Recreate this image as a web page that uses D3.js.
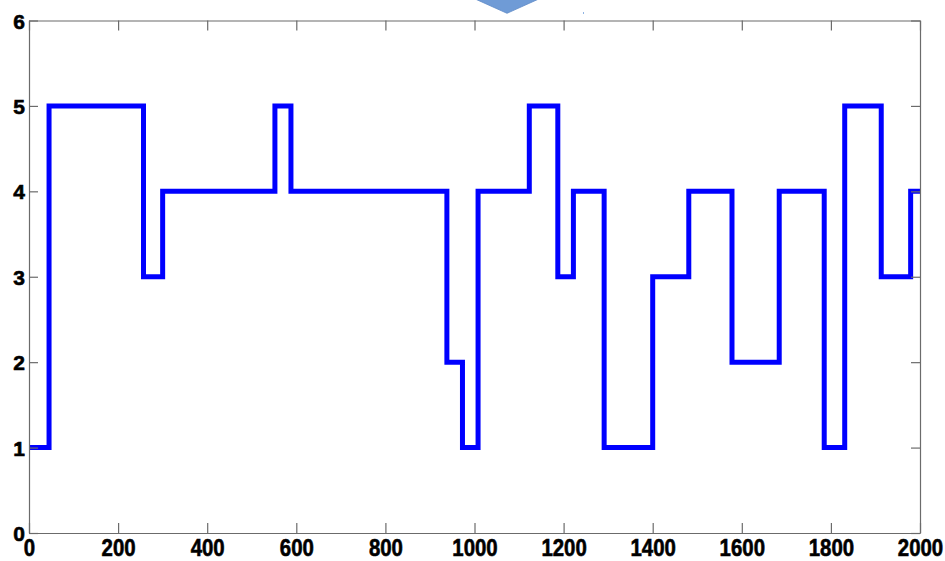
<!DOCTYPE html>
<html>
<head>
<meta charset="utf-8">
<script src="https://cdn.jsdelivr.net/npm/d3@7"></script>
<style>
  html, body { margin: 0; padding: 0; background: #fff; }
  svg { display: block; }
</style>
</head>
<body>
<svg id="chart" width="945" height="561"></svg>
<script>
// Step signal: positions where the state changes, and the state held from there on
const changeX = [0, 45, 257, 300, 552, 588, 938, 973, 1008, 1123, 1187, 1222, 1291, 1400, 1481, 1578, 1684, 1785, 1831, 1913, 1979];
const levels  = [1, 5, 3, 4, 5, 4, 2, 1, 4, 5, 3, 4, 1, 3, 4, 2, 4, 1, 5, 3, 4];
const xEnd = 2000;

const xTicks = [0, 200, 400, 600, 800, 1000, 1200, 1400, 1600, 1800, 2000];
const yTicks = [0, 1, 2, 3, 4, 5, 6];

const svg = d3.select("#chart");
const plotLeft = 29, plotTop = 20.5, plotRight = 920, plotBottom = 533;

const x = d3.scaleLinear().domain([0, 2000]).range([plotLeft, plotRight]);
const y = d3.scaleLinear().domain([0, 6]).range([plotBottom, plotTop]);

// decorative arrow shape at the top edge
svg.append("polygon")
  .attr("points", "473,-2 541,-2 507,13.3")
  .attr("fill", "#6f9bd6")
  .attr("stroke", "#5d89c6")
  .attr("stroke-width", 0.8);
svg.append("rect")
  .attr("x", 583).attr("y", 12).attr("width", 1).attr("height", 2)
  .attr("fill", "#8fb4e3");

svg.append("defs").append("clipPath").attr("id", "plotClip")
  .append("rect")
  .attr("x", plotLeft).attr("y", plotTop - 5)
  .attr("width", plotRight - plotLeft).attr("height", plotBottom - plotTop + 10);

const pts = changeX.map((cx, i) => [cx, levels[i]]);
pts.push([xEnd, levels[levels.length - 1]]);

const line = d3.line()
  .x(d => x(d[0]))
  .y(d => y(d[1]))
  .curve(d3.curveStepAfter);

svg.append("path")
  .datum(pts)
  .attr("clip-path", "url(#plotClip)")
  .attr("d", line)
  .attr("fill", "none")
  .attr("stroke", "#0000ff")
  .attr("stroke-width", 5)
  .attr("stroke-linejoin", "miter");

const axisColor = "#6b6b6b";
function styleAxis(g) {
  g.select(".domain").attr("stroke", axisColor).attr("stroke-width", 1.2);
  g.selectAll(".tick line").attr("stroke", axisColor).attr("stroke-width", 1.2);
}
function styleLabels(sel, size) {
  sel.attr("fill", "#000")
    .attr("stroke", "#000")
    .attr("stroke-width", 0.6)
    .attr("font-family", "'Liberation Sans', Arial, sans-serif")
    .attr("font-weight", "bold")
    .attr("font-size", size);
}

// bottom axis with labels
const gx = svg.append("g")
  .attr("transform", `translate(0,${plotBottom})`)
  .call(d3.axisBottom(x).tickValues(xTicks).tickSize(-10).tickSizeOuter(0).tickFormat(d3.format("d")));
styleAxis(gx);
gx.selectAll(".tick text")
  .attr("y", 23)
  .attr("dy", 0)
  .attr("transform", "scale(0.85,1)")
  .call(styleLabels, 24);

// top axis, ticks only
const gxt = svg.append("g")
  .attr("transform", `translate(0,${plotTop})`)
  .call(d3.axisTop(x).tickValues(xTicks).tickSize(-10).tickSizeOuter(0).tickFormat(""));
styleAxis(gxt);

// left axis with labels
const gy = svg.append("g")
  .attr("transform", `translate(${plotLeft},0)`)
  .call(d3.axisLeft(y).tickValues(yTicks).tickSize(-9).tickSizeOuter(0).tickFormat(d3.format("d")));
styleAxis(gy);
gy.selectAll(".tick text")
  .attr("x", -4)
  .attr("dy", "0.36em")
  .call(styleLabels, 21);

// right axis, ticks only
const gyr = svg.append("g")
  .attr("transform", `translate(${plotRight},0)`)
  .call(d3.axisRight(y).tickValues(yTicks).tickSize(-9).tickSizeOuter(0).tickFormat(""));
styleAxis(gyr);
</script>
</body>
</html>
